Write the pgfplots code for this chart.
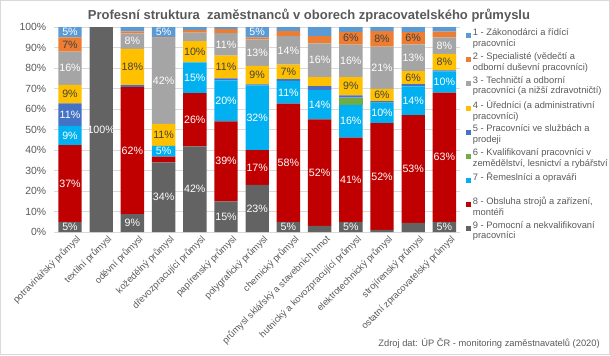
\documentclass[border=0pt]{standalone}
\usepackage{pgfplots}
\pgfplotsset{compat=1.18}
\usepackage{pgfplotstable}
\usepackage{fontspec}
\setmainfont{Liberation Sans}
\definecolor{c1}{HTML}{5B9BD5}
\definecolor{c2}{HTML}{ED7D31}
\definecolor{c3}{HTML}{A5A5A5}
\definecolor{c4}{HTML}{FFC000}
\definecolor{c5}{HTML}{4472C4}
\definecolor{c6}{HTML}{70AD47}
\definecolor{c7}{HTML}{00B0F0}
\definecolor{c8}{HTML}{C00000}
\definecolor{c9}{HTML}{636363}
\definecolor{ctext}{HTML}{595959}
\definecolor{cdark}{HTML}{404040}
\definecolor{cgrid}{HTML}{D9D9D9}

\pgfplotstableread{
x s1 s2 s3 s4 s5 s6 s7 s8 s9
0 5 7 16.2 9 11 0 9.4 37.4 5
1 0 0 0 0 0 0 0 0 100
2 2 1 7.6 17.6 1 0 0 62 8.7
3 5 0.3 42 10.7 0 0 5.2 2.8 34
4 1.5 1.2 4.2 10.3 0 0 15 26 41.8
5 1 2 11 11 1 0 20 39 15
6 5 1 13 9 0.5 0 31.6 16.9 23
7 2 2.4 14 7 1 0 11 57.6 5
8 4.4 3.6 16.4 4.4 2 0 14.2 52 3
9 2.4 6.2 15.8 9 1 3.6 16 41 5
10 2 7.6 20.6 6 0.7 0 10 52 1.1
11 2.5 6 13 6.4 1.1 0 14 52.6 4.4
12 2.3 2.8 8 8 0.5 0 10.4 63 5
}\data

\pgfplotsset{
  geom/.style={at={(40.8pt,92.25pt)}, anchor=south west,
    scale only axis, width=304.2pt, height=153.75pt,
    xmin=-0.5, xmax=12.5, ymin=0, ymax=100,
    /pgf/number format/assume math mode=true},
  lab/.style={draw=none, mark=none, forget plot,
    point meta=\thisrow{#1},
    restrict expr to domain={\thisrow{#1}}{4.75:1000},
    nodes near coords={\pgfmathprintnumber[fixed,precision=0,assume math mode=true]{\pgfplotspointmeta}\%},
    every node near coord/.append style={anchor=center, font=\fontsize{8}{9}\selectfont, text=white, inner sep=0pt}},
  labd/.style={lab=#1, every node near coord/.append style={text=cdark}},
}

\begin{document}
\begin{tikzpicture}
\useasboundingbox (0,0) rectangle (457.5pt,266.25pt);
\draw[cgrid, line width=0.75pt] (0.4pt,0.4pt) rectangle (457.1pt,265.85pt);
\begin{axis}[
  geom,
  ybar stacked, bar width=0.75,
  xtick={0,...,12},
  xticklabels={potravinářský průmysl, textilní průmysl, oděvní průmysl, kožedělný průmysl, dřevozpracující průmysl, papírenský průmysl, polygrafický průmysl, chemický průmysl, průmysl sklářský a stavebních hmot, hutnický a kovozpracující průmysl, elektrotechnický průmysl, strojírenský průmysl, ostatní zpracovatelský průmysl},
  xticklabel style={rotate=45, anchor=north east, font=\fontsize{7}{8}\selectfont, text=ctext, inner sep=1pt, yshift=-3pt, xshift=3pt},
  ytick={0,10,...,100},
  yticklabel={\pgfmathprintnumber{\tick}\%},
  yticklabel style={font=\fontsize{7.8}{9}\selectfont, text=ctext, inner sep=0pt, xshift=-6pt},
  major tick length=0pt,
  axis line style={draw=none},
  ymajorgrids, grid style={cgrid, line width=0.75pt},
  legend cell align=left,
  reverse legend,
  legend style={at={(1,1)}, anchor=north west, xshift=4.5pt, yshift=-1pt, draw=none, fill=none,
    font=\fontsize{7}{8}\selectfont, text=ctext, row sep=2.6pt, inner sep=0pt,
    cells={align=left, anchor=west}, column sep=1.2pt, nodes={inner sep=0pt}},
  legend image code/.code={\fill[#1,draw=none] (0pt,0pt) rectangle (3.75pt,3.75pt); \path (0pt,-8pt);},
]
\addplot[fill=c9, draw=none] table[x=x,y=s9]{\data};
\addlegendentry{9 - Pomocní a nekvalifikovaní\\pracovníci}
\addplot[fill=c8, draw=none] table[x=x,y=s8]{\data};
\addlegendentry{8 - Obsluha strojů a zařízení,\\montéři}
\addplot[fill=c7, draw=none] table[x=x,y=s7]{\data};
\addlegendentry{7 - Řemeslníci a opraváři\\\mbox{}}
\addplot[fill=c6, draw=none] table[x=x,y=s6]{\data};
\addlegendentry{6 - Kvalifikovaní pracovníci v\\zemědělství, lesnictví a rybářství}
\addplot[fill=c5, draw=none] table[x=x,y=s5]{\data};
\addlegendentry{5 - Pracovníci ve službách a\\prodeji}
\addplot[fill=c4, draw=none] table[x=x,y=s4]{\data};
\addlegendentry{4 - Úředníci (a administrativní\\pracovníci)}
\addplot[fill=c3, draw=none] table[x=x,y=s3]{\data};
\addlegendentry{3 - Techničtí a odborní\\pracovníci (a nižší zdravotničtí)}
\addplot[fill=c2, draw=none] table[x=x,y=s2]{\data};
\addlegendentry{2 - Specialisté (vědečtí a\\odborní duševní pracovníci)}
\addplot[fill=c1, draw=none] table[x=x,y=s1]{\data};
\addlegendentry{1 - Zákonodárci a řídící\\pracovníci}
\end{axis}
\begin{axis}[geom, hide axis]
\addplot[lab=s9] table[x=x, y expr=\thisrow{s9}/2]{\data};
\addplot[lab=s8] table[x=x, y expr=\thisrow{s9}+\thisrow{s8}/2]{\data};
\addplot[lab=s7] table[x=x, y expr=\thisrow{s9}+\thisrow{s8}+\thisrow{s7}/2]{\data};
\addplot[lab=s6] table[x=x, y expr=\thisrow{s9}+\thisrow{s8}+\thisrow{s7}+\thisrow{s6}/2]{\data};
\addplot[lab=s5] table[x=x, y expr=\thisrow{s9}+\thisrow{s8}+\thisrow{s7}+\thisrow{s6}+\thisrow{s5}/2]{\data};
\addplot[labd=s4] table[x=x, y expr=\thisrow{s9}+\thisrow{s8}+\thisrow{s7}+\thisrow{s6}+\thisrow{s5}+\thisrow{s4}/2]{\data};
\addplot[lab=s3] table[x=x, y expr=\thisrow{s9}+\thisrow{s8}+\thisrow{s7}+\thisrow{s6}+\thisrow{s5}+\thisrow{s4}+\thisrow{s3}/2]{\data};
\addplot[labd=s2] table[x=x, y expr=\thisrow{s9}+\thisrow{s8}+\thisrow{s7}+\thisrow{s6}+\thisrow{s5}+\thisrow{s4}+\thisrow{s3}+\thisrow{s2}/2]{\data};
\addplot[lab=s1] table[x=x, y expr=\thisrow{s9}+\thisrow{s8}+\thisrow{s7}+\thisrow{s6}+\thisrow{s5}+\thisrow{s4}+\thisrow{s3}+\thisrow{s2}+\thisrow{s1}/2]{\data};
\end{axis}
\node[anchor=base, font=\fontsize{9.75}{11}\selectfont\bfseries, text=ctext, inner sep=0pt] at (231.75pt,251.8pt) {Profesní struktura\ \ zaměstnanců v oborech zpracovatelského průmyslu};
\node[anchor=base east, font=\fontsize{7}{8}\selectfont, text=ctext, inner sep=0pt] at (450pt,6.2pt) {Zdroj dat: ÚP ČR - monitoring zaměstnavatelů (2020)};
\end{tikzpicture}
\end{document}
